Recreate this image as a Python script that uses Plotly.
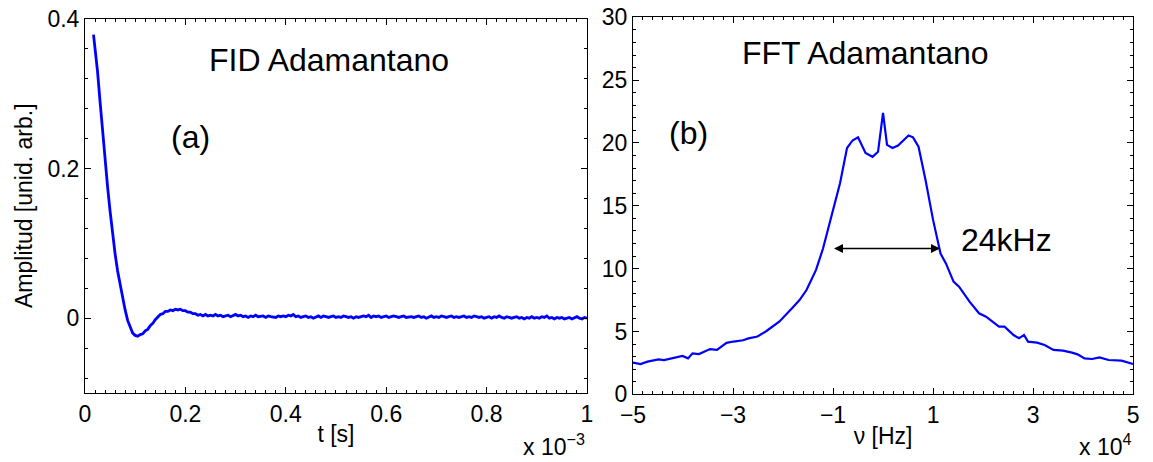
import plotly.graph_objects as go

# ---------------- FID data (t in units of 1e-3 s) ----------------
t_early = [0.017, 0.025, 0.030, 0.035, 0.040, 0.045, 0.050, 0.055, 0.060, 0.065,
           0.070, 0.075, 0.080, 0.085, 0.090, 0.095, 0.100, 0.105, 0.110, 0.115,
           0.120, 0.125, 0.130, 0.135, 0.140, 0.145, 0.150, 0.155, 0.160, 0.165,
           0.170, 0.175, 0.180, 0.185, 0.190, 0.195, 0.200, 0.205, 0.210, 0.215,
           0.220, 0.225, 0.230, 0.235, 0.240, 0.245]
fid_early = [0.379, 0.330, 0.290, 0.250, 0.212, 0.176, 0.143, 0.112, 0.086, 0.063,
             0.044, 0.026, 0.011, -0.003, -0.013, -0.020, -0.023, -0.024, -0.022, -0.021,
             -0.017, -0.015, -0.010, -0.007, -0.002, 0.001, 0.005, 0.006, 0.009, 0.009,
             0.011, 0.010, 0.012, 0.011, 0.012, 0.010, 0.010, 0.008, 0.008, 0.006,
             0.006, 0.004, 0.005, 0.003, 0.005, 0.003]

# tail, sampled every 0.005 (x 1e-3 s) from 0.25; values in units of 1e-3
tail_start = 0.25
tail_step = 0.005
fid_tail_milli = [4, 3, 5, 3, 4, 2, 3, 4, 2, 3,
                  5, 3, 4, 2, 3, 1, 3, 2, 4, 2,
                  2, 3, 1, 3, 2, 2, 1, 3, 2, 3,
                  2, 4, 3, 5, 2, 3, 1, 2, 3, 1,
                  2, 0, 2, 3, 1, 3, 2, 1, 2, 3,
                  1, 2, 1, 3, 2, 1, 2, 0, 2, 1,
                  2, 3, 2, 4, 1, 3, 2, 3, 1, 2,
                  3, 1, 2, 3, 2, 1, 2, 3, 1, 2,
                  2, 1, 2, 3, 1, 2, 0, 2, 3, 1,
                  2, 1, 3, 2, 1, 2, 3, 1, 2, 1,
                  2, 3, 1, 2, 1, 3, 2, 1, 2, 0,
                  1, 2, 0, 2, 1, 3, 1, 0, 2, 1,
                  0, 1, 2, 0, 1, -1, 1, 0, 2, 0,
                  1, 0, 2, 1, 3, 0, 1, -1, 1, 0,
                  1, -1, 0, 1, -1, 0, 2, 0, -1, 1, 0]

t_tail = [tail_start + tail_step * i for i in range(len(fid_tail_milli))]
fid_tail = [v / 1000.0 for v in fid_tail_milli]
t_fid = t_early + t_tail
fid = fid_early + fid_tail

# ---------------- FFT data (nu in units of 1e4 Hz) ----------------
nu = [-5.00, -4.85, -4.71, -4.49, -4.38, -4.23, -4.01, -3.90, -3.81, -3.68,
      -3.46, -3.32, -3.13, -2.99, -2.80, -2.69, -2.51, -2.33, -2.07, -1.82,
      -1.67, -1.53, -1.34, -1.20, -1.01, -0.86, -0.72, -0.61, -0.50, -0.35,
      -0.21, -0.10, 0.00, 0.08, 0.19, 0.30, 0.51, 0.60, 0.71, 0.85,
      1.00, 1.15, 1.26, 1.41, 1.52, 1.73, 1.92, 2.06, 2.32, 2.43,
      2.61, 2.72, 2.82, 2.90, 3.08, 3.23, 3.41, 3.60, 3.78, 3.89,
      4.03, 4.18, 4.33, 4.51, 4.77, 5.00]
fft = [2.52, 2.41, 2.60, 2.78, 2.73, 2.86, 3.05, 2.86, 3.26, 3.20,
       3.60, 3.53, 4.10, 4.20, 4.30, 4.45, 4.60, 5.04, 5.80, 6.85,
       7.50, 8.30, 9.90, 11.6, 14.4, 16.8, 19.6, 20.2, 20.45, 19.2,
       18.9, 19.3, 22.4, 19.85, 19.6, 19.8, 20.6, 20.45, 19.7, 17.05,
       13.9, 11.2, 10.4, 8.97, 8.57, 7.37, 6.45, 6.18, 5.38, 5.38,
       4.72, 4.46, 4.72, 4.19, 4.11, 3.93, 3.53, 3.47, 3.32, 3.18,
       2.86, 2.81, 2.94, 2.73, 2.68, 2.41]

fwhm_left = -1.01
fwhm_right = 1.14
fwhm_level = 11.6
fwhm_label = "24kHz"

FONT = "Liberation Sans, Arial, Helvetica, sans-serif"

fig = go.Figure()
fig.add_trace(go.Scatter(x=t_fid, y=fid, mode="lines",
                         line=dict(color="#0000FF", width=2.8),
                         xaxis="x", yaxis="y", showlegend=False))
fig.add_trace(go.Scatter(x=nu, y=fft, mode="lines",
                         line=dict(color="#0000FF", width=2.2),
                         xaxis="x2", yaxis="y2", showlegend=False))

axis_common = dict(showline=True, linecolor="black", linewidth=1, mirror="ticks",
                   ticks="inside", ticklen=6, tickcolor="black", showgrid=False,
                   zeroline=False, automargin=False,
                   tickfont=dict(family=FONT, size=23, color="black"))

fig.update_layout(
    width=1153, height=462,
    margin=dict(l=0, r=0, t=0, b=0, autoexpand=False),
    paper_bgcolor="white", plot_bgcolor="white",
    font=dict(family=FONT, color="black"),
    xaxis=dict(domain=[0.0737, 0.5091], range=[0, 1], tick0=0, dtick=0.2,
               minor=dict(tick0=0, dtick=0.02, ticks="inside", ticklen=3, tickcolor="black"),
               title=dict(text="t [s]", font=dict(family=FONT, size=23), standoff=0),
               anchor="y", **axis_common),
    yaxis=dict(domain=[0.1494, 0.9589], range=[-0.1, 0.4], tick0=0, dtick=0.2,
               minor=dict(tick0=0, dtick=0.04, ticks="inside", ticklen=3, tickcolor="black"),
               anchor="x", **axis_common),
    xaxis2=dict(domain=[0.549, 0.9827], range=[-5, 5], tick0=-5, dtick=2,
                minor=dict(tick0=-5, dtick=0.2, ticks="inside", ticklen=3, tickcolor="black"),
                title=dict(text="ν [Hz]", font=dict(family=FONT, size=23), standoff=0),
                anchor="y2", **axis_common),
    yaxis2=dict(domain=[0.1465, 0.9625], range=[0, 30], tick0=0, dtick=5,
                minor=dict(tick0=0, dtick=1, ticks="inside", ticklen=3, tickcolor="black"),
                anchor="x2", **axis_common),
)

annotations = [
    dict(text="FID Adamantano", x=0.486, y=0.345, xref="x", yref="y",
         showarrow=False, font=dict(family=FONT, size=32)),
    dict(text="(a)", x=0.211, y=0.242, xref="x", yref="y",
         showarrow=False, font=dict(family=FONT, size=32)),
    dict(text="FFT Adamantano", x=-0.35, y=27.2, xref="x2", yref="y2",
         showarrow=False, font=dict(family=FONT, size=32)),
    dict(text="(b)", x=-3.89, y=20.8, xref="x2", yref="y2",
         showarrow=False, font=dict(family=FONT, size=32)),
    dict(text=fwhm_label, x=2.46, y=12.3, xref="x2", yref="y2",
         showarrow=False, font=dict(family=FONT, size=32)),
    dict(x=fwhm_right, y=fwhm_level, ax=fwhm_left, ay=fwhm_level,
         xref="x2", yref="y2", axref="x2", ayref="y2", text="",
         showarrow=True, arrowside="end+start", arrowhead=2, arrowsize=1.2,
         arrowwidth=1.5, arrowcolor="black"),
    dict(text="Amplitud [unid. arb.]", x=24 / 1153, y=1 - 206 / 462, xref="paper", yref="paper",
         xanchor="center", yanchor="middle",
         textangle=-90, showarrow=False, font=dict(family=FONT, size=23)),
    dict(text="x 10<sup>−3</sup>", x=0.5091, y=1 - 445 / 462, xref="paper", yref="paper",
         xanchor="right", yanchor="middle", showarrow=False, font=dict(family=FONT, size=23)),
    dict(text="x 10<sup>4</sup>", x=0.9827, y=1 - 445 / 462, xref="paper", yref="paper",
         xanchor="right", yanchor="middle", showarrow=False, font=dict(family=FONT, size=23)),
]
fig.update_layout(annotations=annotations)

fig.write_html("out.html", config={"displayModeBar": False},
               post_script="document.body.style.margin='0px';document.body.style.padding='0px';")
